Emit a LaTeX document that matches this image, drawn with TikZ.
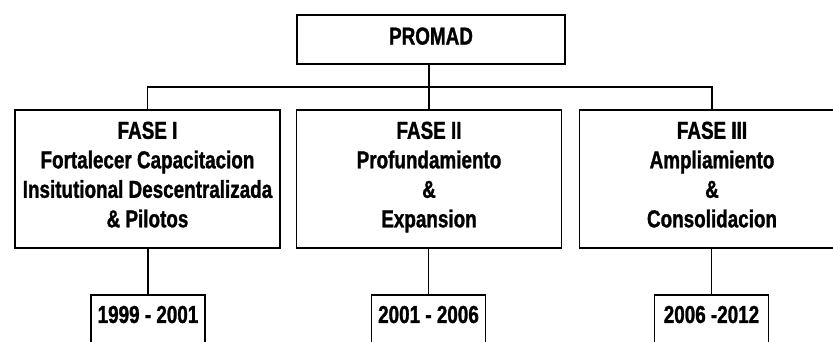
\documentclass[tikz,border=0pt]{standalone}
\usepackage{fontspec}
\setmainfont{Liberation Sans}[FakeStretch=0.77,BoldFeatures={FakeBold=1.2}]
\begin{document}
\begin{tikzpicture}[x=1bp,y=-1bp,
  every node/.style={font=\fontsize{24.5bp}{29.5bp}\selectfont\bfseries},
  box/.style={draw,line width=1.9bp,inner sep=0pt,align=center},
  fasebox/.style={box,minimum width=265bp,minimum height=138bp},
  yearbox/.style={box,anchor=north,minimum width=114bp,text height=28bp,text depth=40bp},
  conn/.style={line width=1.9bp}]
\useasboundingbox (0,0) rectangle (833,341);
\clip (0,0) rectangle (833,341);
\node[box,minimum width=268bp,minimum height=49bp] (promad) at (431,39.5) {PROMAD\rule[-7bp]{0pt}{0pt}};
\node[fasebox] (f1) at (147.5,179) {FASE I\\Fortalecer Capacitacion\\Insitutional Descentralizada\\\& Pilotos\rule[-9bp]{0pt}{0pt}};
\node[fasebox] (f2) at (429,179) {FASE II\\Profundamiento\\\&\\Expansion\rule[-9bp]{0pt}{0pt}};
\node[fasebox] (f3) at (712,179) {FASE III\\Ampliamiento\\\&\\Consolidacion\rule[-9bp]{0pt}{0pt}};
\node[yearbox] (y1) at (148,294) {1999 - 2001};
\node[yearbox] (y2) at (428.5,294) {2001 - 2006};
\node[yearbox] (y3) at (711.5,294) {2006 -2012};
\coordinate (bus) at (0,87);
\draw[conn] (promad.south -| f2.north) -- (f2.north);
\draw[conn] (f1.north) -- (f1.north |- bus) -- (f3.north |- bus) -- (f3.north);
\draw[conn] (f1.south -| y1.north) -- (y1.north);
\draw[conn] (f2.south -| y2.north) -- (y2.north);
\draw[conn] (f3.south -| y3.north) -- (y3.north);
\end{tikzpicture}
\end{document}
